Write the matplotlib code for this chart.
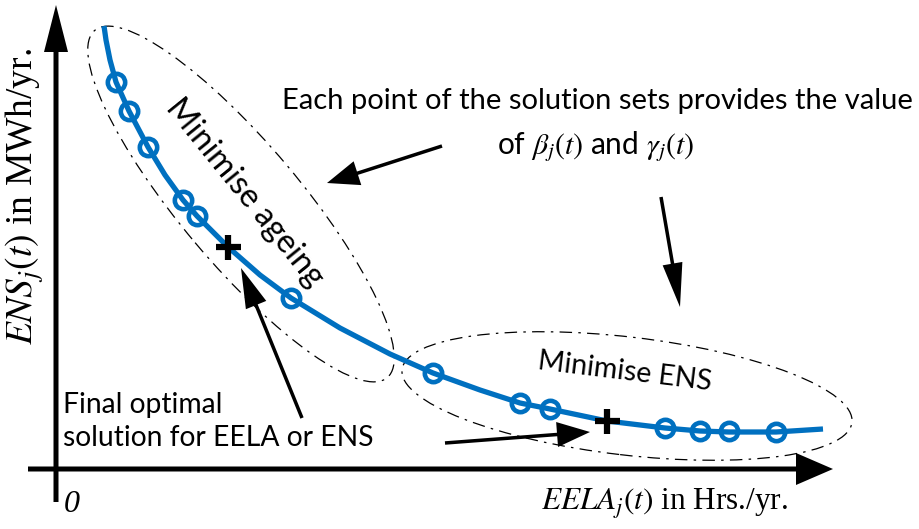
import numpy as np
import matplotlib
matplotlib.use("Agg")
import matplotlib.pyplot as plt
from matplotlib.patches import Ellipse

plt.rcParams['mathtext.fontset'] = 'stix'

BLUE = '#0070C0'
SANS = 'Lato'
SERIF = 'Liberation Serif'

# Pareto front (EELA on x, ENS on y), schematic units
front_x = [48, 50, 54, 60, 73, 92, 109, 127, 141, 172, 204, 235, 284, 334,
           377, 424, 464, 494, 551, 609, 644, 673, 720, 767]
front_y = [443, 429, 409, 387, 358, 322, 294, 269, 253, 222, 194, 171, 141, 115,
           96, 79, 66, 60, 48, 41, 38, 37, 37, 40]

# solution sets sitting on the front
sol_x = [60, 73, 92, 127, 141, 235, 377, 464, 494, 609, 644, 673, 720]
sol_y = [387, 358, 322, 269, 253, 171, 96, 66, 60, 41, 38, 38, 37]

# final optimal solutions
best_x = [172, 551]
best_y = [222, 48]

fig = plt.figure(figsize=(9.19, 5.29), dpi=100)
ax = fig.add_axes([0, 0, 1, 1])
ax.set_xlim(-56, 863)
ax.set_ylim(-60, 469)
ax.axis('off')

# axes drawn as arrows
ax.arrow(-28, 0, 805, 0, width=5, head_width=32, head_length=37,
         length_includes_head=True, color='k', lw=0)
ax.arrow(0, -33, 0, 497, width=5, head_width=24, head_length=47,
         length_includes_head=True, color='k', lw=0)

# groups of solutions
dash = (0, (10, 5, 2, 5))
ax.add_patch(Ellipse((185, 265), 454, 120, angle=-49.9, fill=False,
                     ec='k', lw=0.9, ls=dash))
ax.add_patch(Ellipse((571, 73), 453, 118, angle=-6.7, fill=False,
                     ec='k', lw=0.9, ls=dash))

ax.plot(front_x, front_y, color=BLUE, lw=3.8, solid_joinstyle='round',
        solid_capstyle='butt', zorder=3)
ax.plot(sol_x, sol_y, 'o', ms=12.5, mfc='none', mec=BLUE, mew=3.3, zorder=4)
ax.plot(best_x, best_y, '+', ms=18, mec='k', mew=4.5, zorder=5)

# pointer arrows
pointers = [((386, 323), (271, 286), 25, 32),
            ((605, 272), (624, 162), 20, 44),
            ((246, 51), (185, 201), 22, 40),
            ((389, 26), (534, 37), 25, 33)]
for (x0, y0), (x1, y1), hw, hl in pointers:
    ax.arrow(x0, y0, x1 - x0, y1 - y0, width=3.5, head_width=hw, head_length=hl,
             length_includes_head=True, color='k', lw=0, zorder=6)

ax.text(597 - 56, 469 - 101, 'Each point of the solution sets provides the value',
        family=SANS, fontsize=21, ha='center', va='center')
ax.text(596 - 56, 469 - 147, r'of $\beta_j(t)$ and $\gamma_j(t)$',
        family=SANS, fontsize=21.5, ha='center', va='center')
ax.text(189, 276, 'Minimise ageing', family=SANS, fontsize=23.5,
        rotation=-51, rotation_mode='anchor', ha='center', va='center')
ax.text(569, 97, 'Minimise ENS', family=SANS, fontsize=20.5,
        rotation=-7, rotation_mode='anchor', ha='center', va='center')
ax.text(7, 469 - 392, 'Final optimal\nsolution for EELA or ENS', family=SANS,
        fontsize=20.3, ha='left', va='top', linespacing=1.35)

ax.text(16, -36, '0', family=SERIF, style='italic', fontsize=23,
        ha='center', va='center')
ax.text(609, -36, r'$EELA_j(t)$ in Hrs./yr.', family=SERIF, fontsize=22.5,
        ha='center', va='center')
ax.text(-31, 273, r'$ENS_j(t)$ in MWh/yr.', family=SERIF, fontsize=27,
        rotation=90, ha='center', va='center')

fig.savefig('out.png', dpi=100)
